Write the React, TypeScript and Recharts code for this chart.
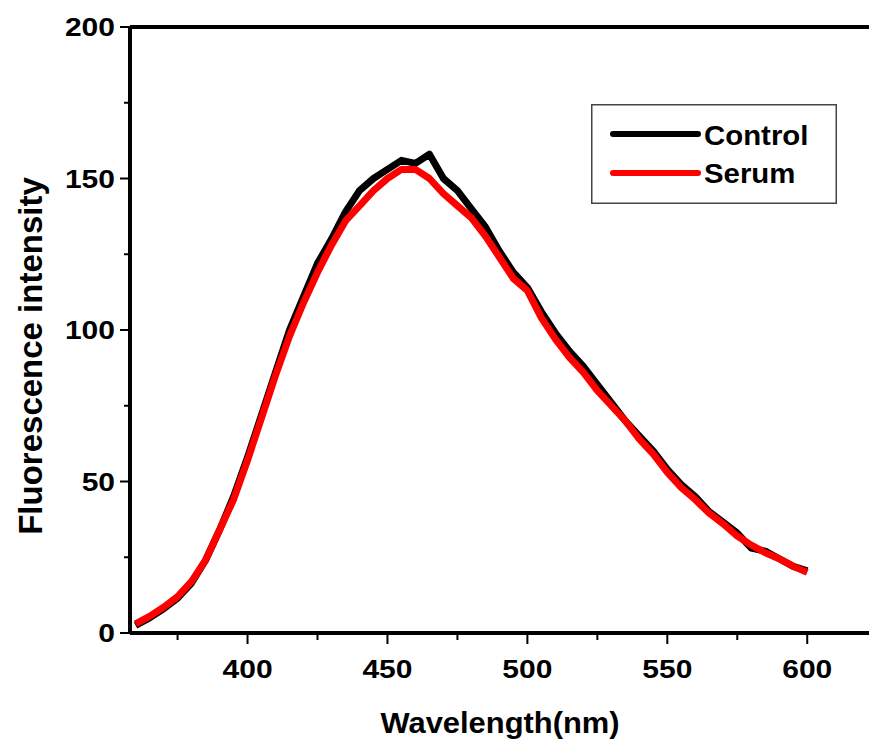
import { LineChart, Line, XAxis, YAxis, ReferenceLine, Legend } from 'recharts';

// Fluorescence emission spectra (5 nm steps)
const wavelengths = [
  360, 365, 370, 375, 380, 385, 390, 395, 400, 405, 410, 415, 420, 425, 430, 435, 440,
  445, 450, 455, 460, 465, 470, 475, 480, 485, 490, 495, 500, 505, 510, 515, 520, 525,
  530, 535, 540, 545, 550, 555, 560, 565, 570, 575, 580, 585, 590, 595, 600,
];
const controlValues = [
  2.5, 5, 8, 11.5, 16.5, 24, 34, 45, 58, 72, 86, 100, 111, 122, 130, 139, 146,
  150, 153, 156, 155, 158, 150, 146, 140, 134, 126, 119, 114, 106, 99, 93, 88, 82,
  76, 70, 65, 60, 54, 49, 45, 40, 36.5, 33, 28, 27, 24.5, 22, 20.5,
];
const serumValues = [
  3, 5.5, 8.5, 12, 17, 24, 34, 44, 57, 71, 85, 98, 109, 119, 128, 136, 141,
  146, 150, 153, 153, 150, 145, 141, 137, 131, 124, 117, 113, 104, 97, 91, 86, 80,
  75, 70, 64, 59, 53, 48, 44, 39.5, 36, 32, 29, 26.5, 24.5, 22, 20,
];

const xTicks = [375, 400, 425, 450, 475, 500, 525, 550, 575, 600, 625];
const yTicks = [0, 25, 50, 75, 100, 125, 150, 175, 200];

const data = wavelengths.map((w, i) => ({
  w,
  control: controlValues[i],
  serum: serumValues[i],
}));

const FONT = '"Liberation Sans", Arial, Helvetica, sans-serif';

const XTick = ({ x, y, payload }: any) => {
  const major = payload.value % 50 === 0;
  return (
    <g>
      <line x1={x} y1={y} x2={x} y2={y + (major ? 11 : 7)} stroke="#000" strokeWidth={2} />
      {major && (
        <text
          transform={`translate(${x},${y + 45}) scale(1.2,1)`}
          textAnchor="middle"
          fontSize={25}
          fontWeight="bold"
          fill="#000"
          fontFamily={FONT}
        >
          {payload.value}
        </text>
      )}
    </g>
  );
};

const YTick = ({ x, y, payload }: any) => {
  const major = payload.value % 50 === 0;
  return (
    <g>
      <line x1={x} y1={y} x2={x - (major ? 10 : 6)} y2={y} stroke="#000" strokeWidth={2} />
      {major && (
        <text
          transform={`translate(${x - 15},${y}) scale(1.2,1)`}
          dy="0.36em"
          textAnchor="end"
          fontSize={25}
          fontWeight="bold"
          fill="#000"
          fontFamily={FONT}
        >
          {payload.value}
        </text>
      )}
    </g>
  );
};

const LegendBox = ({ payload }: any) => (
  <svg width={246} height={100}>
    <rect x={0.75} y={0.75} width={244.5} height={98.5} fill="#fff" stroke="#444" strokeWidth={1.5} />
    {(payload || []).map((entry: any, i: number) => (
      <g key={entry.value}>
        <line x1={22} x2={107} y1={30 + i * 39} y2={30 + i * 39} stroke={entry.color} strokeWidth={6} strokeLinecap="round" />
        <text
          transform={`translate(113,${41 + i * 38}) scale(1.05,1)`}
          fontSize={28}
          fontWeight="bold"
          fill="#000"
          fontFamily={FONT}
        >
          {entry.value}
        </text>
      </g>
    ))}
  </svg>
);

export default function App() {
  return (
    <div style={{ position: 'absolute', left: 0, top: 0, width: 869, height: 742, overflow: 'hidden', background: '#fff' }}>
      <LineChart width={900} height={742} data={data} margin={{ top: 27, right: 20, left: 70, bottom: 59 }}>
        <XAxis
          dataKey="w"
          type="number"
          domain={[358, 626]}
          ticks={xTicks}
          interval={0}
          allowDataOverflow
          height={50}
          tickSize={0}
          tickMargin={0}
          tick={<XTick />}
          axisLine={{ stroke: '#000', strokeWidth: 4 }}
          label={() => (
            <text
              transform="translate(500,733) scale(1.03,1)"
              textAnchor="middle"
              fontSize={30}
              fontWeight="bold"
              fill="#000"
              fontFamily={FONT}
            >
              Wavelength(nm)
            </text>
          )}
        />
        <YAxis
          type="number"
          domain={[0, 200]}
          ticks={yTicks}
          interval={0}
          width={60}
          tickSize={0}
          tickMargin={0}
          tick={<YTick />}
          axisLine={{ stroke: '#000', strokeWidth: 4 }}
          label={() => (
            <text
              x={42}
              y={356}
              transform="rotate(-90 42 356)"
              textAnchor="middle"
              fontSize={33}
              fontWeight="bold"
              fill="#000"
              fontFamily={FONT}
            >
              Fluorescence intensity
            </text>
          )}
        />
        <ReferenceLine y={200} stroke="#000" strokeWidth={4} />
        <Legend
          layout="vertical"
          align="center"
          verticalAlign="middle"
          content={<LegendBox />}
          wrapperStyle={{ left: 591, top: 104, width: 246, height: 100 }}
        />
        <Line
          type="linear"
          dataKey="control"
          name="Control"
          stroke="#000"
          strokeWidth={7}
          strokeLinejoin="round"
          dot={false}
          isAnimationActive={false}
        />
        <Line
          type="linear"
          dataKey="serum"
          name="Serum"
          stroke="#ff0000"
          strokeWidth={7}
          strokeLinejoin="round"
          dot={false}
          isAnimationActive={false}
        />
      </LineChart>
    </div>
  );
}
